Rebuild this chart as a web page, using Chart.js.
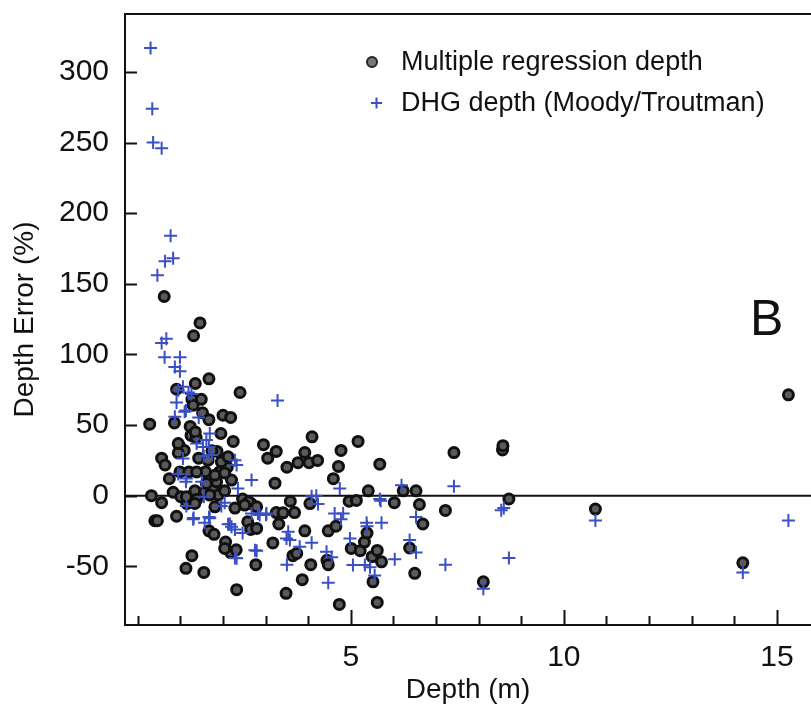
<!DOCTYPE html>
<html>
<head>
<meta charset="utf-8">
<script src="https://cdn.jsdelivr.net/npm/chart.js@4/dist/chart.umd.min.js"></script>
<style>
  html, body { margin: 0; padding: 0; background: #fff; }
  #wrap { width: 811px; height: 711px; }
</style>
</head>
<body>
<div id="wrap"><canvas id="c" width="811" height="711"></canvas></div>
<script>
// Multiple regression depth: depth (m) / error (%)
const regX = [0.28,0.32,0.40,0.46,0.56,0.62,0.56,0.64,0.74,0.83,0.86,0.91,0.91,0.98,1.09,1.01,1.13,1.15,1.23,1.25,
  1.27,1.31,1.27,1.35,1.37,1.43,1.46,1.49,1.52,1.55,1.59,1.67,1.67,1.67,1.73,1.79,1.86,1.95,2.00,2.10,
  2.06,2.18,2.18,2.24,2.28,2.32,2.31,2.40,2.46,2.58,2.66,2.77,2.95,3.05,3.22,3.25,3.17,3.25,3.31,3.48,
  3.50,3.58,3.64,3.68,3.76,3.86,3.92,3.92,4.02,4.04,4.06,4.09,4.22,4.44,4.47,4.47,4.59,4.65,4.71,4.77,
  4.73,4.96,5.01,5.13,5.17,5.22,5.32,5.38,5.41,5.50,5.52,5.62,5.62,5.68,5.72,6.02,6.23,6.38,6.50,6.53,
  6.61,6.69,7.22,7.42,8.11,8.56,8.57,8.71,10.74,14.2,15.27,
  1.14,1.34,1.38,1.57,1.77,1.89,2.04,1.85,1.61,2.20,2.60,1.74,1.96,1.92,1.35,0.95,1.65,2.12,0.99,1.20,
  1.38,1.81,2.04,1.34,1.69,1.81,2.51,2.04,2.65,2.79,3.41,2.79,3.73,1.30,0.95];
const regY = [50.6,0,-17.8,-17.8,-5,141,26.5,21.7,12,2.4,51.5,75.3,-14.6,35.1,32,-0.8,-51.5,-5.6,49,42.6,
  68.2,113.2,-42.5,79.4,41,26.5,122.3,68.2,58.6,-54.4,16.9,82.7,53.8,-24.9,3.4,-27.4,31.3,44,56.9,20.1,
  -32.9,55.4,-40.3,38.4,-8.8,-66.6,-38.4,73,-2.4,-18.5,-5.6,-48.9,36.1,26.5,8.8,31.3,-33.5,-12,-20.1,-69.2,
  20.1,-4,-42.5,-12,23.3,-59.5,30.5,-24.9,23.3,-5.6,-48.9,41.6,24.9,-45.8,-48.9,-24.9,12,-21.7,20.7,32,
  -77,-4,-37.4,-3.4,38.4,-39,-32.9,-26.5,3.4,-43.2,-61,-38.8,-75.6,22.3,-46.9,-5,3.4,-37.1,-55,3.4,
  -6.3,-20.1,-10.5,30.5,-61,32.3,35.4,-2.4,-9.5,-47.6,71.4,
  -0.8,3.4,-2.7,2.7,5.8,0.4,3.4,9.8,8.6,11,-4.4,31.7,23.9,16.8,45.1,30.3,25.1,27.5,16.8,16.8,
  16.8,14.5,16.1,-5.5,0.4,-7.9,-6.7,-37.4,-23.9,-7.9,-12.2,-23.2,-40.9,64,36.9];

// DHG depth (Moody/Troutman)
const dhgX = [0.30,0.34,0.36,0.56,0.77,0.83,0.64,0.46,0.67,0.56,0.63,0.99,0.87,0.99,1.06,0.91,1.26,1.10,0.87,1.69,
  1.61,1.38,1.53,1.06,2.28,2.32,2.67,1.14,1.50,2.35,1.14,1.30,1.57,1.69,2.04,1.96,2.12,2.28,2.20,2.79,
  2.32,2.67,2.86,4.74,4.08,2.82,3.02,4.23,4.62,4.82,5.70,5.37,5.72,3.53,3.49,3.57,4.08,3.80,4.98,4.43,
  4.55,5.05,5.33,5.45,6.03,4.47,2.75,6.38,6.19,3.28,7.42,7.22,8.11,8.59,8.53,8.71,10.74,14.2,15.27,6.53,
  5.38,5.56,6.53,1.31,1.67,1.55,1.13,0.95,1.55,1.74,1.67,1.19,1.13,1.43,0.95,2.16,2.28,2.46,3.01,4.77,
  3.50,5.68,4.19];
const dhgY = [317,274,250,246,184,168,166,156,111,108,98,98,91,88,77,66,72,59.3,55.8,44,
  39.3,36.9,34.5,26.3,25.1,21.6,11,12.2,9.8,5.1,-7.4,-16.8,-19.2,-16.1,-5.1,-7.4,-20.2,-23.9,-22,-39,
  -44.4,-12.6,-13.8,5.1,-0.4,-12.6,-12.6,-6,-12.6,-12.6,-3.7,-19.2,-19.2,-25.6,-30.3,-31.5,-33.4,-36.2,-30.3,-39.8,
  -43.7,-49.2,-49.2,-50.8,-45.1,-61.7,-38.6,-31.5,7.4,67.3,6.6,-48.9,-65.9,-8.8,-10.4,-44.1,-17.6,-54.4,-17.6,-15.2,
  -21.7,-56.6,-40.3,-15.9,-15.2,-0.8,9.8,15.3,28,28.7,34.5,73,60.2,55.4,74.6,-20.1,-44.1,-26.5,-13.6,-16.8,
  -48.9,-2.4,0];

const seriesNames = ['Multiple regression depth', 'DHG depth (Moody/Troutman)'];
const yTickStep = 50;
const xTickStep = 1;
const xLabelEvery = 5;

const INK = '#111';
const BLUE = '#3a4fc4';
const FONT = '"Liberation Sans", Arial, sans-serif';

const toPoints = (xs, ys) => xs.map((x, i) => ({ x, y: ys[i] }));

// frame, inward ticks, zero line, legend and panel letter
const decorations = {
  id: 'decorations',
  beforeDatasetsDraw(chart) {
    const { ctx, chartArea: a, scales: { y } } = chart;
    const y0 = y.getPixelForValue(0);
    ctx.save();
    ctx.strokeStyle = INK;
    ctx.lineWidth = 2;
    ctx.beginPath();
    ctx.moveTo(a.left, y0);
    ctx.lineTo(a.right, y0);
    ctx.stroke();
    ctx.restore();
  },
  afterDraw(chart) {
    const { ctx, chartArea: a, scales: { x, y } } = chart;
    ctx.save();
    ctx.strokeStyle = INK;
    ctx.lineWidth = 2;
    ctx.beginPath();
    ctx.moveTo(a.right + 2, a.top);
    ctx.lineTo(a.left, a.top);
    ctx.lineTo(a.left, a.bottom);
    ctx.lineTo(a.right + 2, a.bottom);
    ctx.stroke();

    ctx.beginPath();
    y.ticks.forEach(t => {
      const py = Math.round(y.getPixelForValue(t.value)) + 0.5;
      ctx.moveTo(a.left, py);
      ctx.lineTo(a.left + 12, py);
    });
    x.ticks.forEach(t => {
      const px = Math.round(x.getPixelForValue(t.value)) + 0.5;
      const major = t.value !== 0 && t.value % xLabelEvery === 0;
      ctx.moveTo(px, a.bottom);
      ctx.lineTo(px, a.bottom - (major ? 15 : 9));
    });
    ctx.stroke();

    // legend
    ctx.fillStyle = '#777';
    ctx.strokeStyle = '#222';
    ctx.lineWidth = 2;
    ctx.beginPath();
    ctx.arc(372, 62, 5, 0, Math.PI * 2);
    ctx.fill();
    ctx.stroke();
    ctx.strokeStyle = BLUE;
    ctx.lineWidth = 2;
    ctx.beginPath();
    ctx.moveTo(371, 103); ctx.lineTo(382, 103);
    ctx.moveTo(376.5, 97.5); ctx.lineTo(376.5, 108.5);
    ctx.stroke();

    ctx.fillStyle = INK;
    ctx.font = '27px ' + FONT;
    ctx.textBaseline = 'middle';
    ctx.textAlign = 'left';
    ctx.fillText(seriesNames[0], 401, 63);
    ctx.fillText(seriesNames[1], 401, 104);

    ctx.font = '50px ' + FONT;
    ctx.textBaseline = 'alphabetic';
    ctx.fillText('B', 750, 335);
    ctx.restore();
  }
};

new Chart(document.getElementById('c'), {
  type: 'scatter',
  data: {
    datasets: [
      {
        label: seriesNames[0],
        data: toPoints(regX, regY),
        pointStyle: 'circle',
        pointRadius: 5,
        pointBorderWidth: 3,
        backgroundColor: '#5a5a5a',
        borderColor: '#101010',
        order: 2
      },
      {
        label: seriesNames[1],
        data: toPoints(dhgX, dhgY),
        pointStyle: 'cross',
        pointRadius: 6.5,
        pointBorderWidth: 2,
        borderColor: BLUE,
        backgroundColor: BLUE,
        order: 1
      }
    ]
  },
  options: {
    responsive: false,
    animation: false,
    layout: { autoPadding: false, padding: { top: 14, right: 0, left: 0, bottom: 0 } },
    plugins: { legend: { display: false }, tooltip: { enabled: false } },
    scales: {
      x: {
        type: 'linear',
        min: -0.3,
        max: 15.8,
        grid: { display: false, drawTicks: false },
        border: { display: false },
        ticks: {
          stepSize: xTickStep,
          includeBounds: false,
          autoSkip: false,
          maxRotation: 0,
          padding: 15,
          color: INK,
          font: { family: FONT, size: 30 },
          callback: v => (v !== 0 && v % xLabelEvery === 0) ? String(v) : ''
        },
        title: {
          display: true,
          text: 'Depth (m)',
          color: INK,
          font: { family: FONT, size: 28 },
          padding: { top: 0, bottom: 4 }
        },
        afterFit(s) { s.height = 86; s.paddingLeft = 0; s.paddingRight = 0; }
      },
      y: {
        type: 'linear',
        min: -91.6,
        max: 341,
        grid: { display: false, drawTicks: false },
        border: { display: false },
        ticks: {
          stepSize: yTickStep,
          includeBounds: false,
          padding: 16,
          color: INK,
          font: { family: FONT, size: 30 }
        },
        title: {
          display: true,
          text: 'Depth Error (%)',
          color: INK,
          font: { family: FONT, size: 28 },
          padding: { top: 8, bottom: 0 }
        },
        afterFit(s) { s.width = 125; s.paddingTop = 0; s.paddingBottom = 0; }
      }
    }
  },
  plugins: [decorations]
});
</script>
</body>
</html>
